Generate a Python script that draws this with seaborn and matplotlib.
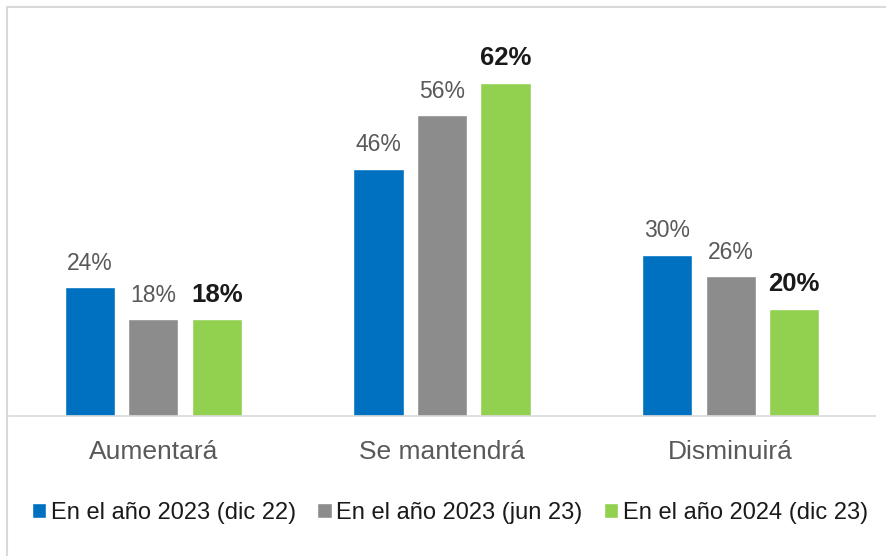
import numpy as np
import pandas as pd
import seaborn as sns
import matplotlib
matplotlib.use("Agg")
import matplotlib.pyplot as plt
from matplotlib.patches import Rectangle

categories = ["Aumentará", "Se mantendrá", "Disminuirá"]
series = ["En el año 2023 (dic 22)", "En el año 2023 (jun 23)", "En el año 2024 (dic 23)"]
dic22 = [24, 46, 30]
jun23 = [18, 56, 26]
dic23 = [18, 62, 20]
colors = ["#0070C0", "#8C8C8C", "#92D050"]

df = pd.DataFrame({
    "cat": categories * 3,
    "serie": [s for s in series for _ in categories],
    "val": dic22 + jun23 + dic23,
})

sns.set_theme(style="white")
plt.rcParams["font.family"] = ["Liberation Sans", "DejaVu Sans"]

fig = plt.figure(figsize=(8.87, 5.56), dpi=100)
ax = fig.add_axes([9 / 887, 1 - 416 / 556, 866 / 887, (416 - 40) / 556])

sns.barplot(data=df, x="cat", y="val", hue="serie", palette=colors,
            width=0.66, gap=0.21, ax=ax, legend=True, saturation=1)

for i, cont in enumerate(ax.containers):
    if i == 2:
        ax.bar_label(cont, fmt="%d%%", padding=9, fontsize=18.5,
                     fontweight="bold", color="#1a1a1a")
    else:
        ax.bar_label(cont, fmt="%d%%", padding=9, fontsize=16.5, color="#595959")

ax.set_ylim(0, 70)
ax.set_xlim(-0.5, 2.5)
ax.set_xlabel("")
ax.set_ylabel("")
ax.set_yticks([])
for s in ["top", "right", "left"]:
    ax.spines[s].set_visible(False)
ax.spines["bottom"].set_color("#d9d9d9")
ax.spines["bottom"].set_linewidth(1.2)
ax.tick_params(axis="x", length=0, pad=17, labelsize=19, labelcolor="#595959")

handles, labels = ax.get_legend_handles_labels()
ax.get_legend().remove()
fig.legend(handles, labels, loc="center", bbox_to_anchor=(450 / 887, 1 - 513 / 556),
           ncol=3, frameon=False, fontsize=17, handlelength=0.6,
           handleheight=0.6, handletextpad=0.2, columnspacing=0.9,
           labelcolor="#1a1a1a", borderpad=0, borderaxespad=0)

fig.add_artist(Rectangle((7 / 887, -0.1), 1.2, 1.1 - 7 / 556,
                         transform=fig.transFigure, fill=False,
                         ec="#d9d9d9", lw=1.5))

fig.savefig("out.png", dpi=100)
